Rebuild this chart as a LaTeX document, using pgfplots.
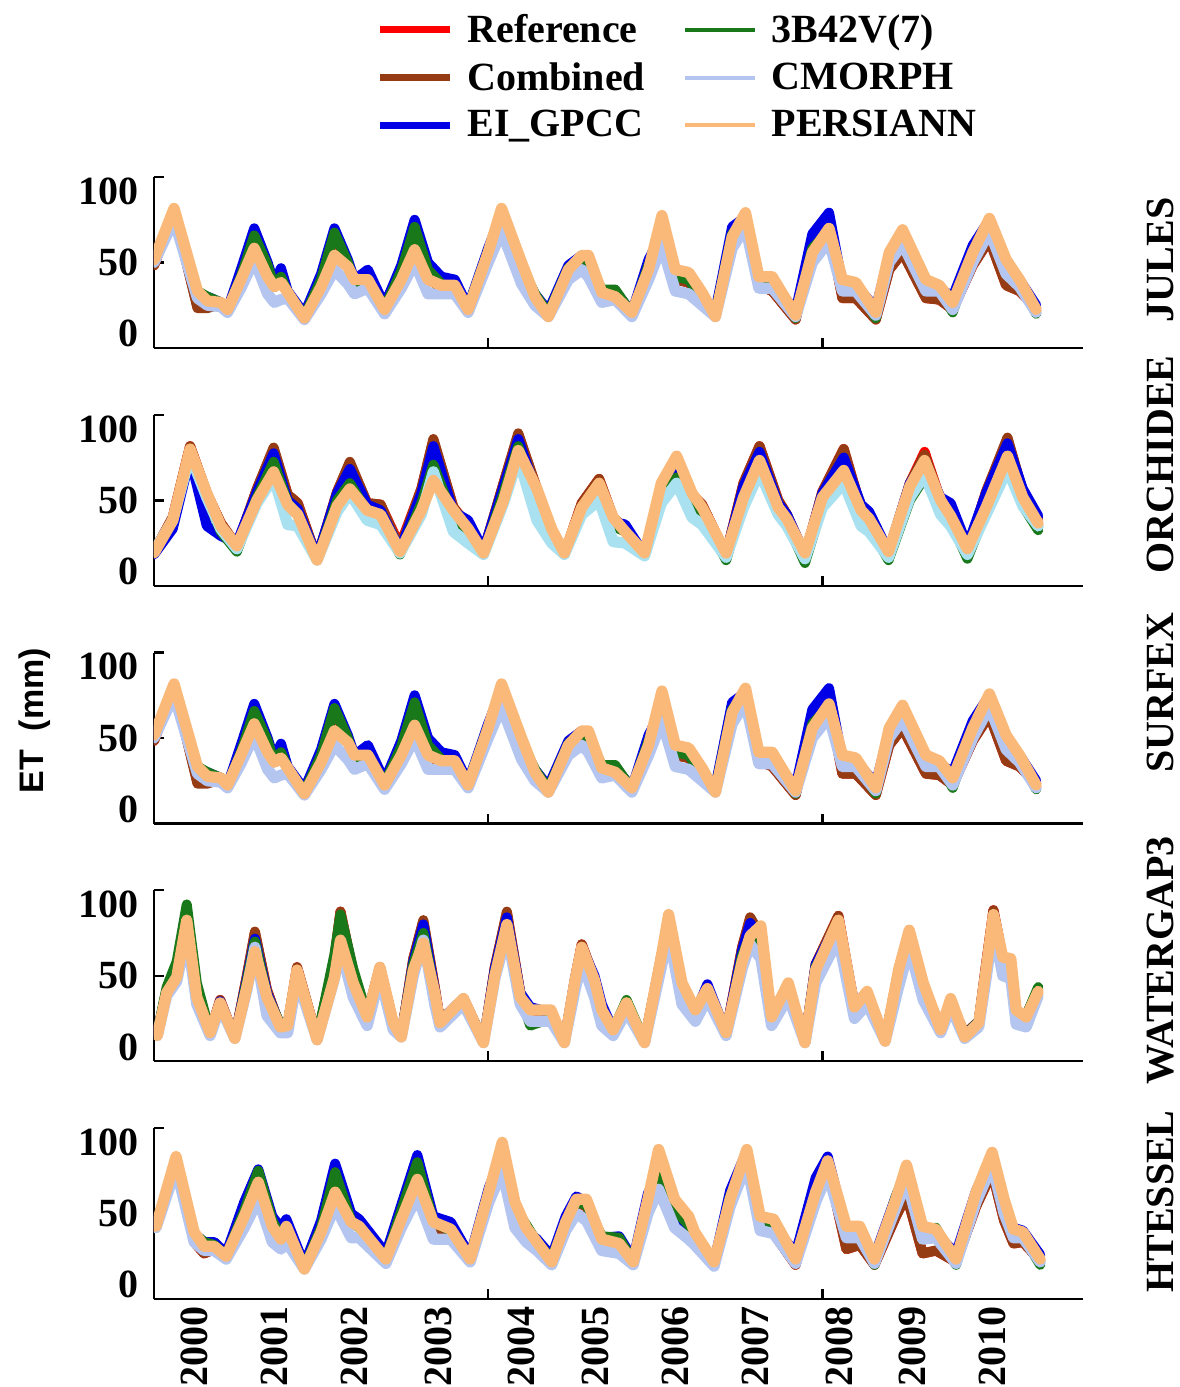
\documentclass[border=0pt]{standalone}
\usepackage{fontspec}
\setmainfont{Liberation Serif}
\setsansfont{Liberation Sans}
\usepackage{pgfplots}
\pgfplotsset{compat=1.18}
\usepackage{pgfplotstable}

\definecolor{cref}{RGB}{255,0,0}
\definecolor{ccomb}{RGB}{150,60,20}
\definecolor{cei}{RGB}{0,0,230}
\definecolor{ctrmm}{RGB}{25,120,25}
\definecolor{ccm}{RGB}{180,198,240}
\definecolor{ccmb}{RGB}{170,225,240}
\definecolor{cpers}{RGB}{250,185,120}

\newcommand{\bigf}{\fontsize{20}{24}\selectfont\bfseries}

% columns: month index, Reference, Combined, EI_GPCC, 3B42V7, CMORPH, PERSIANN
\pgfplotstableread{
m ref comb ei trmm cm pers
0 48 48 50 50 50 52
3 86 86 86 86 80 88
6.5 19 18 28 30 25 30
8 19 18 26 26 20 23
10 21 21 22 22 19 22
11 17 17 17 17 15 17
13 42 42 45 40 32 38
15 72 72 74 69 52 60
17 45 45 50 48 28 40
18 33 33 35 33 22 33
19 44 44 46 40 24 36
20 29 29 30 29 25 29
22.5 12 12 14 12 10 11
25 40 40 42 38 28 33
27 70 70 74 71 45 55
29 48 48 52 50 35 47
30 35 35 38 35 28 38
32 40 40 45 38 32 38
34.5 20 20 20 18 14 17
37 45 45 48 44 32 38
39 76 76 80 75 50 59
41 42 42 50 45 28 38
43 30 30 40 35 28 34
45 33 33 38 32 28 34
47 17 17 19 18 15 17
50 58 58 60 58 50 57
52 82 82 84 82 72 88
55 45 45 45 47 35 50
57 25 25 28 28 20 26
59 14 14 16 14 12 12
62 44 44 48 46 38 45
64 52 52 55 54 45 55
65 48 48 52 50 40 55
67 27 27 28 31 22 29
69 27 27 30 31 24 26
71.5 14 14 15 14 12 15
74 48 48 52 48 38 45
76 66 66 70 72 62 83
78 38 38 42 40 30 45
80 36 36 38 38 28 43
82 25 25 26 25 20 29
84 14 14 16 14 12 12
86.5 72 72 75 70 60 68
88.5 80 80 82 80 75 85
90.5 34 34 38 36 32 40
92.5 30 30 36 36 32 40
96 10 10 16 11 12 13
98.5 62 62 70 60 50 57
101 74 74 85 72 65 74
103 25 25 35 36 30 38
105 25 25 34 34 30 36
108 10 10 18 11 13 15
110 45 45 55 55 50 57
112 57 57 70 70 63 73
115.5 25 25 35 35 30 38
117.5 24 24 32 32 30 34
119.5 17 17 26 15 17 22
122.5 48 48 62 57 50 57
125 66 66 80 80 72 81
127.5 34 34 48 48 42 52
129.5 30 30 38 36 33 38
132 18 18 20 14 15 17
}\jules

\pgfplotstableread{
m ref comb ei trmm cm pers
0 14 14 12 14 14 13
2.8 38 38 30 36 36 36
5.4 88 88 80 84 82 86
7.9 55 55 32 52 52 55
10 34 34 25 28 30 32
12.4 18 18 20 14 16 18
15.4 58 58 56 52 48 50
17.9 86 87 83 77 66 70
20 54 54 50 48 33 47
21.5 48 48 44 40 32 40
24.4 9 9 10 8 8 8
27.4 56 56 55 50 42 46
29.3 76 77 72 62 55 58
31.9 48 48 47 42 36 43
33.9 47 47 43 38 33 40
36.8 18 16 15 12 13 14
40 58 58 55 48 40 43
41.8 92 93 88 75 70 64
44.8 45 45 42 38 28 43
47 32 32 36 28 20 30
49.3 14 14 15 12 12 13
52.3 62 62 60 55 48 50
54.5 96 97 93 88 80 85
57.3 58 58 55 50 36 58
59.5 28 28 28 25 20 30
61.4 12 12 12 12 12 13
64 48 48 45 44 40 45
66.6 65 65 60 58 50 62
68.7 38 38 35 32 21 38
70.5 30 30 33 28 20 28
73.4 12 12 12 12 11 13
75.9 60 60 58 52 48 62
78.2 76 76 74 66 62 81
80.5 54 54 50 48 38 55
82 47 47 45 40 33 45
85.6 12 12 12 8 10 13
88.2 62 62 60 50 45 52
90.6 88 88 84 74 70 78
93.4 50 50 48 42 40 45
94.7 40 40 40 34 32 37
97.4 11 11 12 6 9 13
100 56 56 55 46 45 52
103.2 86 86 80 62 62 71
105.8 44 44 47 38 32 43
107 36 36 42 32 28 37
109.9 13 13 14 8 10 14
113.1 62 62 62 50 52 60
115.3 84 82 76 66 68 78
117.7 50 50 52 45 40 50
119.2 40 40 48 35 32 39
121.7 14 14 18 9 12 16
124.5 56 56 55 42 40 45
127.7 93 94 90 75 72 81
130 56 56 58 46 46 52
132.3 36 36 39 29 32 34
}\orchidee

\pgfplotstableread{
m ref comb ei trmm cm pers
0.5 10 10 10 10 8 8
1.9 40 40 40 42 36 38
3.4 52 52 52 60 46 49
4.9 92 92 92 100 80 89
6.4 36 36 36 45 30 35
8.4 10 10 10 10 8 10
9.9 33 33 32 30 28 31
12.1 6 6 6 6 6 6
13.9 50 50 48 46 40 42
15.1 80 81 76 74 70 67
16.9 40 40 38 36 22 35
18.9 14 14 15 16 10 14
20 15 15 16 16 10 15
21.4 56 56 54 54 48 54
24.4 6 6 6 6 5 5
27 62 62 58 65 48 49
27.9 95 95 88 93 70 75
29.8 52 52 52 55 35 45
31.9 22 22 22 22 15 21
33.8 56 56 56 56 50 56
35.8 17 17 17 17 12 17
37 8 8 8 8 7 7
38.8 62 62 60 58 50 54
40.3 88 89 86 80 75 73
42 42 42 40 38 30 38
42.8 18 18 18 18 14 17
46.3 34 34 34 34 30 34
49.3 4 4 4 4 3 3
51 56 56 55 52 48 50
52.8 94 95 91 86 80 86
54.8 38 38 38 36 30 35
56.3 26 26 28 15 18 26
59.4 24 24 24 20 18 26
61.4 4 4 4 4 3 3
63 48 48 48 47 40 47
64 72 72 70 68 60 70
65.9 48 48 50 44 35 47
67 26 26 30 24 15 26
68.7 12 12 12 12 8 12
70.7 30 30 30 33 25 31
73.4 4 4 4 4 3 3
76 66 66 66 64 58 66
77 90 90 90 88 80 93
79 42 42 40 42 30 45
81 24 24 24 26 18 26
82.8 40 40 44 40 34 41
85.6 10 10 10 8 8 10
88 70 70 68 64 55 60
89.2 90 91 87 78 72 78
90.8 78 78 75 70 62 85
92.4 22 22 22 20 15 21
94.9 44 44 44 42 35 45
97.4 4 4 4 4 3 3
99 58 58 58 56 45 54
102.4 92 92 88 84 76 89
104.8 28 28 30 28 20 28
106.7 38 38 38 38 30 39
109.4 5 5 5 5 4 4
111.4 54 54 52 52 42 54
113 82 82 80 80 70 82
115.1 44 44 42 42 33 45
117.7 12 12 14 14 10 12
119.2 32 32 32 32 28 34
121.3 9 9 8 8 6 7
123.4 18 18 18 18 14 17
124.5 58 58 55 55 48 54
125.6 96 96 92 92 85 93
127 62 62 62 60 50 63
128.2 60 60 60 60 48 62
129 24 24 24 24 16 26
130.5 22 22 22 22 14 21
132.3 40 40 40 42 36 39
}\watergap

\pgfplotstableread{
m ref comb ei trmm cm pers
0.3 40 40 42 42 40 41
3.3 86 86 88 88 82 90
6 30 30 36 36 30 37
7.5 22 22 30 30 24 27
9 25 25 30 28 24 27
10.8 20 20 22 20 18 20
13.5 55 55 58 52 40 48
15.6 78 78 81 80 60 72
17.7 45 45 48 45 30 41
19 34 34 40 34 25 32
19.8 42 42 46 40 30 41
22.5 12 12 14 12 11 11
25 42 42 45 40 32 37
27.1 80 80 85 79 55 65
29.5 46 46 50 45 33 44
30.7 42 42 46 40 33 41
34.7 20 20 22 18 15 18
37 54 54 56 52 40 46
39.4 88 88 91 86 62 74
41.8 40 40 48 44 32 44
44.4 38 38 44 38 32 39
47.3 18 18 20 18 16 18
50.1 66 66 68 66 58 65
52.1 90 90 92 92 80 100
54 52 52 52 54 40 58
55.7 36 36 38 42 30 40
57.3 28 28 32 30 24 30
59.5 18 18 20 18 14 16
61.6 46 46 48 44 38 44
63.2 58 58 62 58 50 60
64.7 55 55 58 56 45 60
67 30 30 33 34 24 32
69.6 30 30 34 33 22 29
71.7 16 16 18 16 14 16
73.9 62 62 64 60 50 60
75.5 76 76 80 81 67 95
77.9 48 48 50 52 40 60
80 38 38 40 42 32 48
80.9 32 32 34 33 28 37
83.8 14 14 16 14 13 16
86.2 62 62 66 62 55 60
88.7 92 92 94 90 85 95
90.7 40 40 44 44 38 48
92.7 36 36 42 44 36 46
96 14 14 22 16 15 18
99 68 68 75 66 58 65
100.8 84 84 90 82 78 87
103.6 25 25 38 37 33 41
105.6 28 28 38 38 33 41
107.8 14 14 20 14 15 18
111 48 48 62 62 54 60
112.6 63 63 80 81 73 84
115 22 22 38 38 32 41
117 24 24 36 40 33 39
120 16 16 22 14 15 18
123 55 55 66 62 58 65
125.4 79 79 90 88 84 93
127.2 45 45 56 56 50 60
128.6 29 29 40 36 33 39
130 30 30 38 34 33 37
132.6 17 17 21 14 16 18
}\htessel

\pgfplotsset{
  legend image code/.code={\draw[#1] (0pt,0pt) -- (35pt,0pt);},
  sref/.style={cref, line width=5pt, line join=round, line cap=round, forget plot, legend image post style={line width=3.5pt, line cap=butt}},
  scomb/.style={ccomb, line width=5pt, line join=round, line cap=round, forget plot, legend image post style={line width=3.5pt, line cap=butt}},
  sei/.style={cei, line width=5pt, line join=round, line cap=round, forget plot, legend image post style={line width=3.5pt, line cap=butt}},
  strmm/.style={ctrmm, line width=5pt, line join=round, line cap=round, forget plot, legend image post style={line width=2.2pt, line cap=butt}},
  scm/.style={ccm, line width=5.6pt, line join=round, line cap=round, forget plot, legend image post style={line width=2.2pt, line cap=butt}},
  spers/.style={cpers, line width=5.6pt, line join=round, line cap=round, forget plot, legend image post style={line width=2.2pt, line cap=butt}},
  panel/.style={
    width=464.5pt, height=85.5pt, scale only axis,
    xmin=0, xmax=139, ymin=-10, ymax=110,
    axis x line*=bottom, axis y line*=left,
    axis line style={line width=1.2pt, black},
    clip mode=individual,
    xtick={50,100}, xticklabels={,},
    ytick={-10,50,110}, yticklabels={,50,},
    extra y ticks={0,100}, extra y tick labels={0,100},
    extra y tick style={major tick length=0pt},
    tick align=inside, major tick length=5pt,
    tick style={line width=1.2pt, black},
    tick label style={font=\bigf},
    yticklabel style={xshift=-4pt},
    anchor=north west,
  },
}

\newcommand{\drawpanel}[2]{%
  \addplot[sref] table[x=m,y=ref]{#1};
  \addplot[scomb] table[x=m,y=comb]{#1};
  \addplot[sei] table[x=m,y=ei]{#1};
  \addplot[strmm] table[x=m,y=trmm]{#1};
  \addplot[scm,color=#2] table[x=m,y=cm]{#1};
  \addplot[spers] table[x=m,y=pers]{#1};
}

\begin{document}
\begin{tikzpicture}
\useasboundingbox (-77pt,-605pt) rectangle (512.5pt,88.5pt);

% JULES
\begin{axis}[panel, at={(0pt,0pt)},
  legend columns=2,
  legend cell align=left,
  legend style={draw=none, fill=none, font=\bigf,
    at={(0.2325,2.0)}, anchor=north west, row sep=4.5pt,
    /tikz/every odd column/.append style={column sep=5pt},
    /tikz/every even column/.append style={column sep=17pt}},
]
\addlegendimage{sref}\addlegendentry{Reference}
\addlegendimage{strmm}\addlegendentry{3B42V(7)}
\addlegendimage{scomb}\addlegendentry{Combined}
\addlegendimage{scm}\addlegendentry{CMORPH}
\addlegendimage{sei}\addlegendentry{EI\_GPCC}
\addlegendimage{spers}\addlegendentry{PERSIANN}
\drawpanel{\jules}{ccm}
\node[rotate=90, font=\bigf] at (rel axis cs:1.083,0.515) {JULES};
\end{axis}

% ORCHIDEE
\begin{axis}[panel, at={(0pt,-118.9pt)}]
\drawpanel{\orchidee}{ccmb}
\node[rotate=90, font=\bigf] at (rel axis cs:1.083,0.71) {ORCHIDEE};
\end{axis}

% SURFEX
\begin{axis}[panel, at={(0pt,-237.75pt)}]
\drawpanel{\jules}{ccm}
\node[rotate=90, font=\bigf] at (rel axis cs:1.083,0.766) {SURFEX};
\node[rotate=90, font=\sffamily\bfseries\fontsize{17}{20}\selectfont] at (rel axis cs:-0.128,0.60) {ET~~(mm)};
\end{axis}

% WATERGAP3
\begin{axis}[panel, at={(0pt,-356.6pt)}]
\drawpanel{\watergap}{ccm}
\node[rotate=90, font=\bigf] at (rel axis cs:1.083,0.59) {WATERGAP3};
\end{axis}

% HTESSEL
\begin{axis}[panel, at={(0pt,-475.5pt)},
  extra x ticks={6,18,30,42.5,55,66,78,90,102.5,113.5,125.5},
  extra x tick labels={2000,2001,2002,2003,2004,2005,2006,2007,2008,2009,2010},
  extra x tick style={major tick length=0pt, tick label style={rotate=90, anchor=east, font=\bigf}},
]
\drawpanel{\htessel}{ccm}
\node[rotate=90, font=\bigf] at (rel axis cs:1.083,0.57) {HTESSEL};
\end{axis}
\end{tikzpicture}
\end{document}
